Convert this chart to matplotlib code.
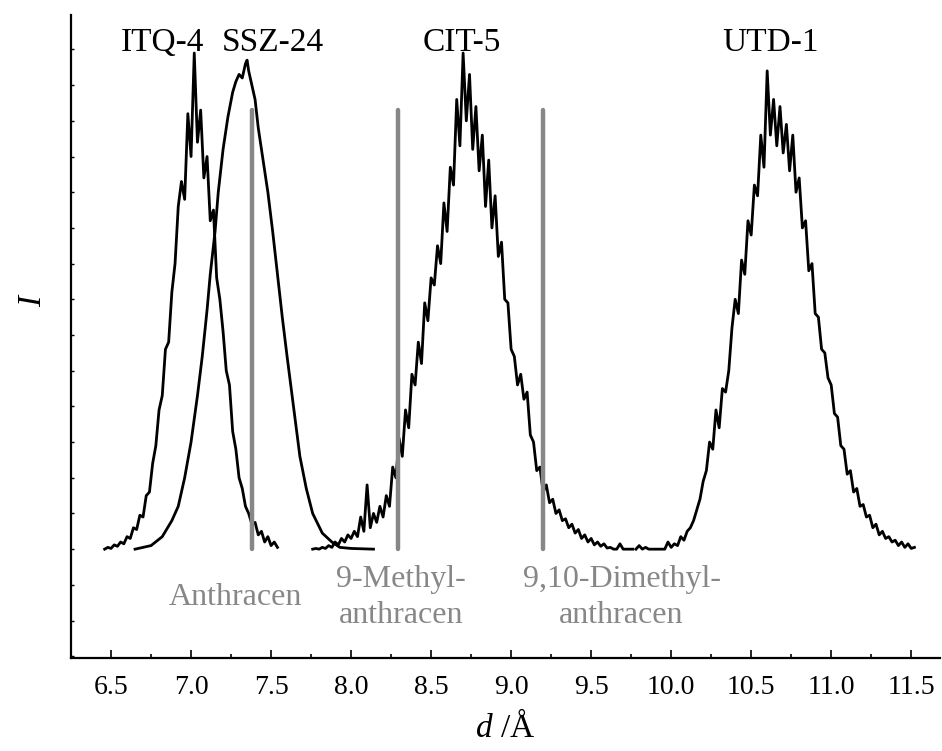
import numpy as np
import matplotlib
matplotlib.use("Agg")
import matplotlib.pyplot as plt
from matplotlib.ticker import MultipleLocator, NullFormatter

plt.rcParams['font.family'] = 'Liberation Serif'
plt.rcParams['mathtext.fontset'] = 'custom'
plt.rcParams['mathtext.rm'] = 'Liberation Serif'
plt.rcParams['mathtext.it'] = 'Liberation Serif:italic'

# ITQ-4, read every 0.02 A starting at 6.46
itq4_start = 6.46
itq4_I = [0.0, 0.05, 0.02, 0.12, 0.08, 0.2, 0.15, 0.35, 0.3, 0.6,
          0.55, 0.95, 0.9, 1.5, 1.6, 2.4, 2.9, 3.9, 4.3, 5.6,
          5.8, 7.2, 8.0, 9.6, 10.3, 9.8, 12.2, 11.0, 13.9, 11.4,
          12.3, 10.4, 11.0, 9.2, 9.5, 7.6, 7.0, 6.1, 5.0, 4.6,
          3.3, 2.8, 2.0, 1.7, 1.2, 1.0, 0.7, 0.75, 0.4, 0.5,
          0.2, 0.35, 0.1, 0.2, 0.05]

# SSZ-24 (smooth)
ssz24_d = [6.65, 6.75, 6.82, 6.88, 6.92, 6.96, 7.0, 7.04, 7.07, 7.1,
           7.12, 7.15, 7.17, 7.2, 7.23, 7.26, 7.28, 7.3, 7.32, 7.34,
           7.35, 7.36, 7.38, 7.4, 7.42, 7.45, 7.48, 7.51, 7.54, 7.57,
           7.6, 7.64, 7.68, 7.72, 7.76, 7.82, 7.88, 7.93, 8.0, 8.14]
ssz24_I = [0, 0.1, 0.35, 0.8, 1.2, 2.0, 3.0, 4.3, 5.4, 6.7,
           7.7, 8.9, 10.0, 11.2, 12.1, 12.8, 13.1, 13.3, 13.2, 13.6,
           13.7, 13.4, 13.0, 12.6, 11.8, 10.9, 10.0, 8.9, 7.7, 6.5,
           5.4, 4.0, 2.6, 1.7, 1.0, 0.45, 0.2, 0.05, 0.02, 0.0]

# CIT-5, read every 0.02 A starting at 7.76
cit5_start = 7.76
cit5_I = [0.0, 0.02, 0.0, 0.05, 0.02, 0.1, 0.05, 0.2, 0.12, 0.3,
          0.2, 0.4, 0.3, 0.5, 0.35, 0.9, 0.5, 1.8, 0.6, 1.0,
          0.75, 1.2, 0.9, 1.5, 1.2, 2.3, 2.0, 3.1, 2.6, 3.9,
          3.4, 4.9, 4.6, 5.8, 5.2, 6.9, 6.4, 7.6, 7.4, 8.5,
          8.0, 9.7, 8.9, 10.7, 10.2, 12.6, 11.3, 13.9, 12.0, 13.3,
          11.2, 12.4, 10.6, 11.6, 9.6, 10.9, 9.0, 9.9, 8.2, 8.6,
          7.0, 6.9, 5.6, 5.4, 4.6, 4.9, 4.2, 4.4, 3.2, 3.0,
          2.2, 2.3, 1.6, 1.8, 1.3, 1.4, 1.0, 1.1, 0.8, 0.85,
          0.6, 0.7, 0.45, 0.55, 0.3, 0.4, 0.2, 0.3, 0.12, 0.2,
          0.08, 0.15, 0.03, 0.05, 0.0, 0.0, 0.15, 0.0, 0.0, 0.0,
          0.0]

# UTD-1, read every 0.02 A starting at 9.78
utd1_start = 9.78
utd1_I = [0.0, 0.1, 0.0, 0.05, 0.0, 0.0, 0.0, 0.0, 0.0, 0.0,
          0.2, 0.05, 0.15, 0.1, 0.35, 0.25, 0.5, 0.6, 0.8, 1.1,
          1.4, 1.9, 2.2, 3.0, 2.8, 3.9, 3.4, 4.5, 4.4, 5.0,
          6.2, 7.0, 6.6, 8.1, 7.7, 9.2, 8.8, 10.2, 9.9, 11.6,
          10.7, 13.4, 11.6, 12.6, 11.3, 12.4, 11.1, 11.9, 10.6, 11.6,
          10.0, 10.4, 9.0, 9.2, 7.8, 8.0, 6.6, 6.5, 5.6, 5.5,
          4.8, 4.6, 3.8, 3.7, 2.9, 2.8, 2.1, 2.2, 1.6, 1.7,
          1.2, 1.25, 0.9, 0.95, 0.6, 0.7, 0.4, 0.5, 0.3, 0.35,
          0.2, 0.25, 0.1, 0.2, 0.05, 0.15, 0.02, 0.05]
step = 0.02

# guest molecule diameters
guest_d = [7.38, 8.29, 9.2]
guest_top = 12.3
guest_names = ["Anthracen", "9-Methyl-\nanthracen", "9,10-Dimethyl-\nanthracen"]
guest_label_x = [7.28, 8.31, 9.69]

peak_names = ["ITQ-4", "SSZ-24", "CIT-5", "UTD-1"]
peak_label_x = [6.82, 7.51, 8.69, 10.62]

fig = plt.figure(figsize=(9.42, 7.51), dpi=100)
ax = fig.add_axes([0.0754, 0.1238, 0.9225, 0.856])

for start, vals in [(itq4_start, itq4_I), (cit5_start, cit5_I), (utd1_start, utd1_I)]:
    d = start + step * np.arange(len(vals))
    ax.plot(d, vals, color='black', lw=2.0)
ax.plot(ssz24_d, ssz24_I, color='black', lw=2.0)

gray = '#878787'
for gx in guest_d:
    ax.plot([gx, gx], [0, guest_top], color=gray, lw=3.2,
            solid_capstyle='round', zorder=3)

for name, lx in zip(guest_names, guest_label_x):
    ax.text(lx, -1.35, name, color=gray, fontsize=23, ha='center',
            va='center', linespacing=1.3, multialignment='center')

for name, lx in zip(peak_names, peak_label_x):
    ax.text(lx, 14.2, name, color='black', fontsize=24, ha='center',
            va='center')

ax.set_xlim(6.25, 11.68)
ax.set_ylim(-3.05, 14.96)
ax.spines['top'].set_visible(False)
ax.spines['right'].set_visible(False)
ax.spines['left'].set_linewidth(1.6)
ax.spines['bottom'].set_linewidth(1.6)

ax.xaxis.set_major_locator(MultipleLocator(0.5))
ax.xaxis.set_minor_locator(MultipleLocator(0.25))
ax.tick_params(axis='x', which='major', direction='in', length=6,
               width=1.2, labelsize=20, pad=12)
ax.tick_params(axis='x', which='minor', direction='in', length=3, width=1.2)
ax.yaxis.set_major_locator(MultipleLocator(1))
ax.yaxis.set_major_formatter(NullFormatter())
ax.tick_params(axis='y', which='major', direction='in', length=2.5, width=1.0)

ax.set_xlabel(r'$d$ /Å', fontsize=24, labelpad=8)
fig.text(33 / 942, 1 - 300 / 751, r'$I$', fontsize=24, rotation=90,
         ha='center', va='center')

fig.savefig('out.png', dpi=100)
